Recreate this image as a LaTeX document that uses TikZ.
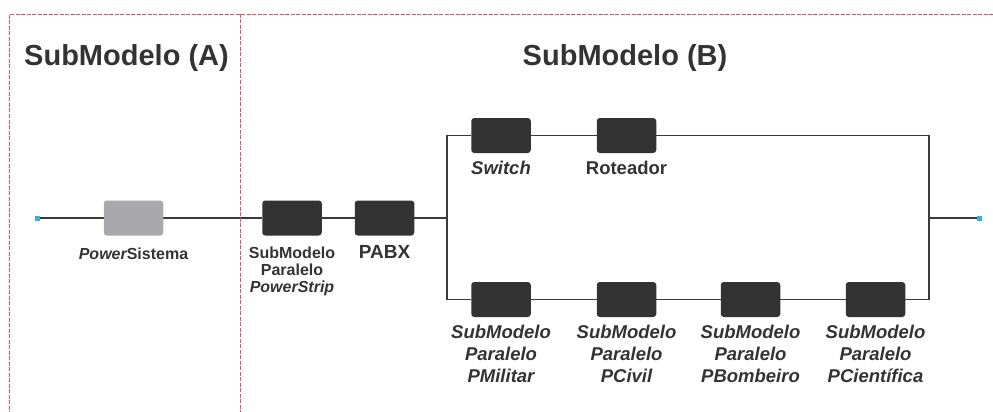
\documentclass[tikz,border=0pt]{standalone}
\usepackage{fontspec}
\setmainfont{Liberation Sans}
\usetikzlibrary{backgrounds}
\definecolor{ink}{HTML}{333333}
\definecolor{linec}{HTML}{3A3A3A}
\definecolor{framered}{HTML}{E8525C}
\definecolor{greybox}{HTML}{A9A9AD}
\definecolor{dotblue}{HTML}{3AAEE0}
\begin{document}
\begin{tikzpicture}[x=1pt,y=-1pt,
  wire/.style={draw=linec,line width=1.8pt,line join=miter},
  frameline/.style={draw=framered,line width=0.8pt,dash pattern=on 4pt off 1.5pt},
  blk/.style={fill=ink,rounded corners=3pt,minimum width=59.5pt,minimum height=35pt,inner sep=0pt},
  greyblk/.style={blk,fill=greybox},
  term/.style={fill=dotblue,minimum size=5pt,inner sep=0pt},
  lbl/.style={text=ink,font=\bfseries\fontsize{16}{17}\selectfont,align=center,anchor=north,inner sep=0pt},
  lblm/.style={lbl,font=\bfseries\fontsize{18.5}{22}\selectfont},
  lblbig/.style={lbl,font=\bfseries\fontsize{19}{22}\selectfont},
  title/.style={text=ink,font=\bfseries\fontsize{29}{34}\selectfont,inner sep=0pt,anchor=base}]
\useasboundingbox (0,0) rectangle (993,412);

% dashed frame of the two sub-models
\draw[frameline] (993,14) -- (9.5,14) -- (9.5,412);
\draw[frameline] (240,14) -- (240,412);

% titles
\node[title,anchor=base west] (tA) at (24,66) {SubModelo (A)};
\node[title] (tB) at (625,66) {SubModelo (B)};

% series chain
\node[term] (in) at (37,218) {};
\node[greyblk] (ps) at (133.5,218) {};
\node[blk] (strip) at (292,218) {};
\node[blk] (pabx) at (384.5,218) {};

% junctions of the parallel section
\coordinate (jlm) at (447,218);
\coordinate (jlt) at (447,135.5);
\coordinate (jlb) at (447,299.5);
\coordinate (jrt) at (929,135.5);
\coordinate (jrm) at (929,218);
\coordinate (jrb) at (929,299.5);

% upper branch
\node[blk] (sw) at (501,135.5) {};
\node[blk] (rt) at (626.5,135.5) {};

% lower branch
\node[blk] (pm) at (501,299.5) {};
\node[blk] (pc) at (626.5,299.5) {};
\node[blk] (pb) at (750.5,299.5) {};
\node[blk] (pci) at (875.5,299.5) {};

\node[term] (out) at (979,218) {};

% wiring
\begin{pgfonlayer}{background}
\draw[wire] (in.center) -- (ps.west);
\draw[wire] (ps.east) -- (strip.west);
\draw[wire] (strip.east) -- (pabx.west);
\draw[wire] (pabx.east) -- (jlm);
\draw[wire] (sw.west) -- (jlt) -- (jlb) -- (pm.west);
\draw[wire] (sw.east) -- (rt.west);
\draw[wire] (rt.east) -- (jrt) -- (jrb) -- (pci.east);
\draw[wire] (pm.east) -- (pc.west);
\draw[wire] (pc.east) -- (pb.west);
\draw[wire] (pb.east) -- (pci.west);
\draw[wire] (jrm) -- (out.center);
\end{pgfonlayer}

% labels
\node[lbl] (lps) at ([yshift=-12pt]ps.south) {{\itshape Power}Sistema};
\node[lbl] (lstrip) at ([yshift=-11pt]strip.south) {SubModelo\\Paralelo\\{\itshape PowerStrip}};
\node[lblbig] (lpabx) at ([yshift=-10pt]pabx.south) {PABX};
\node[lblm] (lsw) at ([yshift=-8pt]sw.south) {\itshape Switch};
\node[lblm] (lrt) at ([yshift=-8pt]rt.south) {Roteador};
\node[lblm,font=\bfseries\itshape\fontsize{18.5}{22}\selectfont] (lpm) at ([yshift=-8pt]pm.south) {SubModelo\\Paralelo\\PMilitar};
\node[lblm,font=\bfseries\itshape\fontsize{18.5}{22}\selectfont] (lpc) at ([yshift=-8pt]pc.south) {SubModelo\\Paralelo\\PCivil};
\node[lblm,font=\bfseries\itshape\fontsize{18.5}{22}\selectfont] (lpb) at ([yshift=-8pt]pb.south) {SubModelo\\Paralelo\\PBombeiro};
\node[lblm,font=\bfseries\itshape\fontsize{18.5}{22}\selectfont] (lpci) at ([yshift=-8pt]pci.south) {SubModelo\\Paralelo\\PCientífica};
\end{tikzpicture}
\end{document}
